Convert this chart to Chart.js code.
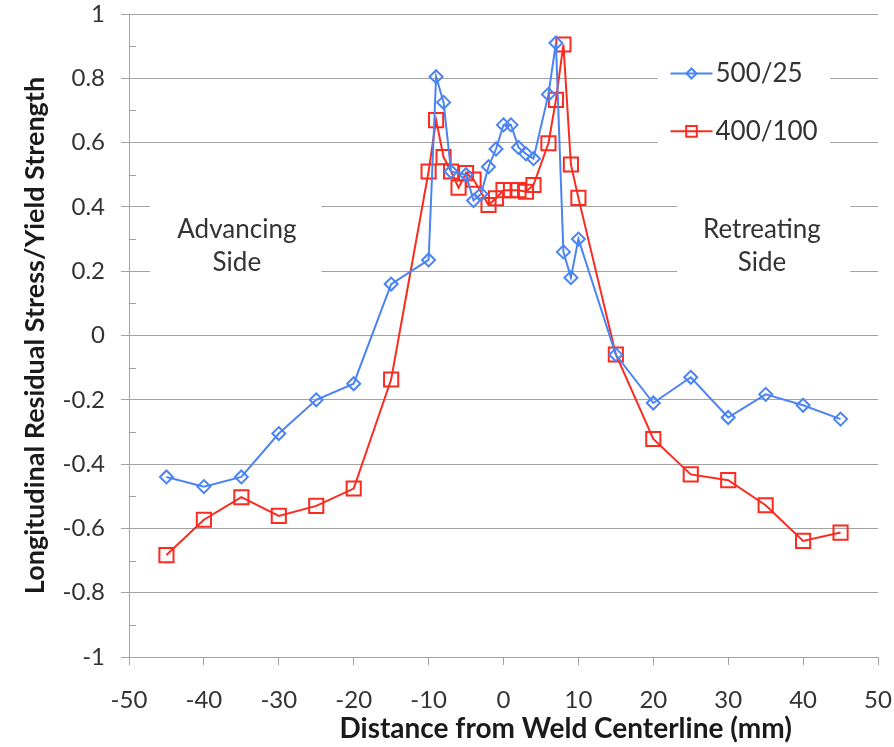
<!DOCTYPE html>
<html>
<head>
<meta charset="utf-8">
<script src="https://cdn.jsdelivr.net/npm/chart.js@4.4.1/dist/chart.umd.min.js"></script>
<style>
  html, body { margin: 0; padding: 0; background: #fff; }
</style>
</head>
<body>
<canvas id="stressChart" width="894" height="747"></canvas>
<script>
// distance from weld centerline (mm) and stress / yield strength
const x500 = [-45, -40, -35, -30, -25, -20, -15, -10, -9, -8, -7, -5, -4, -3, -2, -1, 0, 1, 2, 3, 4, 6, 7, 8, 9, 10, 15, 20, 25, 30, 35, 40, 45];
const y500 = [-0.44, -0.47, -0.44, -0.305, -0.2, -0.15, 0.16, 0.235, 0.805, 0.725, 0.51, 0.5, 0.42, 0.44, 0.525, 0.58, 0.655, 0.655, 0.585, 0.565, 0.55, 0.75, 0.91, 0.26, 0.18, 0.3, -0.06, -0.21, -0.13, -0.255, -0.183, -0.217, -0.26];
const x400 = [-45, -40, -35, -30, -25, -20, -15, -10, -9, -8, -7, -6, -5, -4, -2, -1, 0, 1, 2, 3, 4, 6, 7, 8, 9, 10, 15, 20, 25, 30, 35, 40, 45];
const y400 = [-0.683, -0.573, -0.503, -0.561, -0.53, -0.476, -0.137, 0.51, 0.67, 0.555, 0.51, 0.46, 0.505, 0.485, 0.406, 0.427, 0.452, 0.452, 0.452, 0.447, 0.468, 0.598, 0.733, 0.905, 0.532, 0.428, -0.059, -0.322, -0.432, -0.45, -0.528, -0.639, -0.613];

const seriesNames = ['500/25', '400/100'];
const xTickLabels = [-50, -40, -30, -20, -10, 0, 10, 20, 30, 40, 50];
const yTickLabels = [-1, -0.8, -0.6, -0.4, -0.2, 0, 0.2, 0.4, 0.6, 0.8, 1];
const sideNotes = [
    {lines: ['Advancing', 'Side'], x: -35.6, y: 0.33},
    {lines: ['Retreating', 'Side'], x: 34.5, y: 0.33},
];
const xTitle = 'Distance from Weld Centerline (mm)';

const blue = '#4b84f2';
const red = '#fa2b1f';
const gridGray = '#a3a3a3';
const textColor = '#333333';
const fontFamily = 'Lato, "Liberation Sans", sans-serif';

const toPoints = (xs, ys) => xs.map((x, i) => ({x: x, y: ys[i]}));

// white boxes behind the notes and legend, drawn over the gridlines
const notesPlugin = {
    id: 'notes',
    beforeDatasetsDraw(chart) {
        const {ctx, scales: {x, y}} = chart;
        const box = (x0, y0, x1, y1) => {
            const px = x.getPixelForValue(x0);
            const py = y.getPixelForValue(y0);
            ctx.fillRect(px, py, x.getPixelForValue(x1) - px, y.getPixelForValue(y1) - py);
        };
        ctx.save();
        ctx.fillStyle = '#fff';
        box(-47.2, 0.43, -24.3, 0.15);
        box(23.2, 0.43, 46.3, 0.15);
        box(20.6, 0.88, 43.6, 0.52);

        // minor ticks on the y axis
        ctx.strokeStyle = gridGray;
        ctx.lineWidth = 1;
        for (let v = -0.9; v < 1; v += 0.2) {
            const py = Math.round(y.getPixelForValue(v)) + 0.5;
            ctx.beginPath();
            ctx.moveTo(chart.chartArea.left, py);
            ctx.lineTo(chart.chartArea.left + 7, py);
            ctx.stroke();
        }

        ctx.fillStyle = textColor;
        ctx.font = '26px ' + fontFamily;
        ctx.textAlign = 'center';
        ctx.textBaseline = 'middle';
        for (const note of sideNotes) {
            const cx = x.getPixelForValue(note.x);
            const cy = y.getPixelForValue(note.y);
            note.lines.forEach((line, i) => ctx.fillText(line, cx, cy + i * 33));
        }

        // x axis title sits a bit right of the plot centre, as in the original
        ctx.fillStyle = '#1a1a1a';
        ctx.font = 'bold 28px ' + fontFamily;
        ctx.fillText(xTitle, x.getPixelForValue(8.3), 729);
        ctx.restore();
    },
    afterDatasetsDraw(chart) {
        const {ctx, scales: {x, y}} = chart;
        ctx.save();
        const rows = [0.815, 0.635];
        chart.data.datasets.forEach((ds, i) => {
            const py = y.getPixelForValue(rows[i]);
            const x0 = x.getPixelForValue(22.3);
            const x1 = x.getPixelForValue(27.9);
            ctx.strokeStyle = ds.borderColor;
            ctx.lineWidth = 2;
            ctx.beginPath();
            ctx.moveTo(x0, py);
            ctx.lineTo(x1, py);
            ctx.stroke();
            ctx.fillStyle = 'rgba(255,255,255,0)';
            Chart.helpers.drawPoint(ctx, {
                pointStyle: ds.pointStyle,
                radius: i === 0 ? 5 : 7.5,
                borderWidth: 2,
            }, (x0 + x1) / 2, py);
            ctx.fillStyle = textColor;
            ctx.font = '26px ' + fontFamily;
            ctx.textAlign = 'left';
            ctx.textBaseline = 'middle';
            ctx.fillText(ds.label, x1 + 3, py);
        });
        ctx.restore();
    },
};

const tickText = (v) => String(Math.round(v * 10) / 10);

new Chart(document.getElementById('stressChart').getContext('2d'), {
    type: 'scatter',
    data: {
        datasets: [
            {
                label: seriesNames[0],
                data: toPoints(x500, y500),
                showLine: true,
                borderColor: blue,
                backgroundColor: 'rgba(255,255,255,0)',
                borderWidth: 2,
                pointStyle: 'rectRot',
                pointRadius: 6.5,
                pointBorderWidth: 2,
            },
            {
                label: seriesNames[1],
                data: toPoints(x400, y400),
                showLine: true,
                borderColor: red,
                backgroundColor: 'rgba(255,255,255,0)',
                borderWidth: 2,
                pointStyle: 'rect',
                pointRadius: 10,
                pointBorderWidth: 2,
            },
        ],
    },
    options: {
        responsive: false,
        animation: false,
        devicePixelRatio: 1,
        layout: {padding: {top: 14, right: 16, left: 0, bottom: 0}},
        plugins: {
            legend: {display: false},
            tooltip: {enabled: false},
        },
        scales: {
            x: {
                type: 'linear',
                min: -50,
                max: 50,
                afterBuildTicks: (scale) => { scale.ticks = xTickLabels.map(v => ({value: v})); },
                afterFit: (scale) => {
                    scale.height = 90;
                    scale.paddingLeft = 0;
                    scale.paddingRight = 0;
                },
                grid: {drawOnChartArea: false, color: gridGray, tickLength: 8},
                border: {color: gridGray},
                ticks: {color: textColor, font: {family: fontFamily, size: 24}, padding: 21, maxRotation: 0, callback: tickText},
            },
            y: {
                type: 'linear',
                min: -1,
                max: 1,
                afterBuildTicks: (scale) => { scale.ticks = yTickLabels.map(v => ({value: v})); },
                afterFit: (scale) => {
                    scale.width = 129;
                    scale.paddingTop = 0;
                    scale.paddingBottom = 0;
                },
                grid: {color: gridGray, tickLength: 8},
                border: {color: gridGray},
                ticks: {color: textColor, font: {family: fontFamily, size: 24}, padding: 16, callback: tickText},
                title: {
                    display: true,
                    text: 'Longitudinal Residual Stress/Yield Strength',
                    color: '#1a1a1a',
                    font: {family: fontFamily, size: 27, weight: 'bold'},
                    padding: {top: 19, bottom: 0},
                },
            },
        },
    },
    plugins: [notesPlugin],
});
</script>
</body>
</html>
